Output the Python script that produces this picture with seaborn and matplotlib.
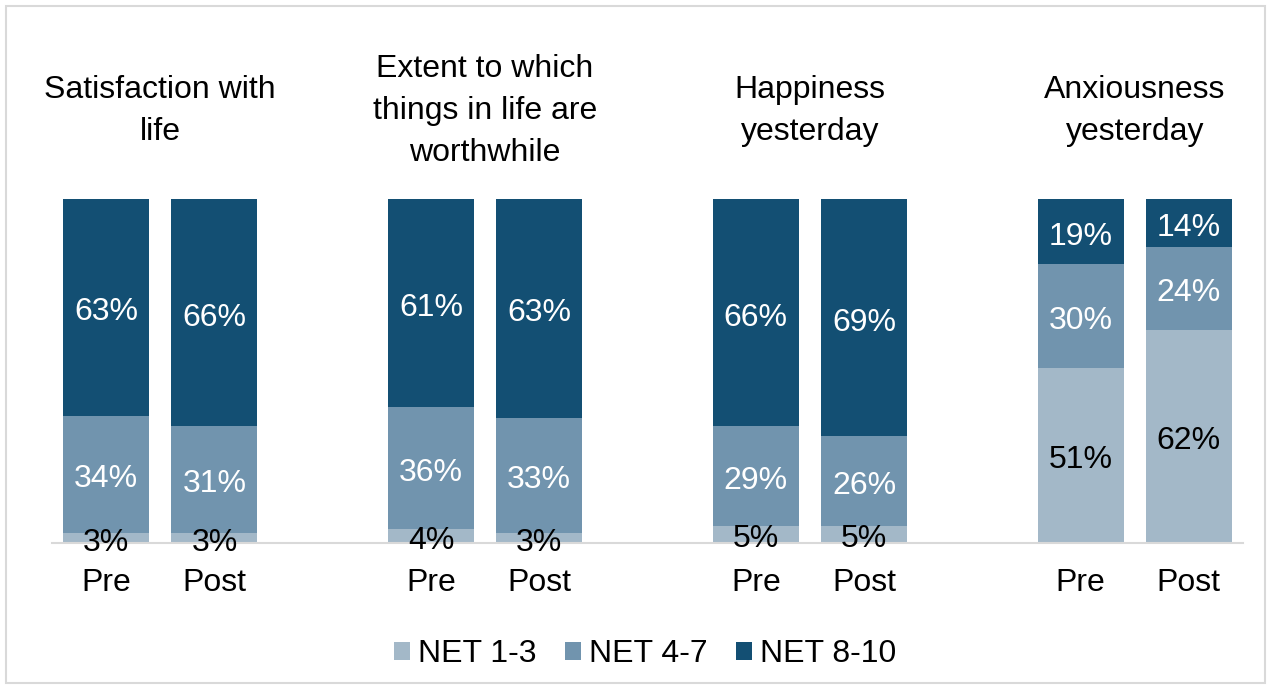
import matplotlib
matplotlib.use("Agg")
import matplotlib.pyplot as plt
import matplotlib.transforms as mtransforms
from matplotlib.patches import Rectangle, Patch
import seaborn as sns
import pandas as pd

# Wellbeing measures, before and after
measures = ["Satisfaction with\nlife",
            "Extent to which\nthings in life are\nworthwhile",
            "Happiness\nyesterday",
            "Anxiousness\nyesterday"]
periods = ["Pre", "Post"]
bands = ["NET 1-3", "NET 4-7", "NET 8-10"]

# Percentages per measure, in order Pre, Post
net_1_3 = [[3, 3], [4, 3], [5, 5], [51, 62]]
net_4_7 = [[34, 31], [36, 33], [29, 26], [30, 24]]
net_8_10 = [[63, 66], [61, 63], [66, 69], [19, 14]]

colors = {"NET 1-3": "#A3B8C8", "NET 4-7": "#7194AE", "NET 8-10": "#134F73"}
label_colors = {"NET 1-3": "black", "NET 4-7": "white", "NET 8-10": "white"}

rows = []
for g, m in enumerate(measures):
    for p, per in enumerate(periods):
        vals = [net_1_3[g][p], net_4_7[g][p], net_8_10[g][p]]
        total = sum(vals)
        cum = 0.0
        for b, v in zip(bands, vals):
            share = v / total * 100
            rows.append({"measure": m, "period": per, "band": b, "value": v,
                         "share": share, "bottom": cum, "x": g * 3 + p})
            cum += share
df = pd.DataFrame(rows)

plt.rcParams["font.family"] = ["Liberation Sans", "DejaVu Sans"]
fig = plt.figure(figsize=(12.71, 6.89), dpi=100)
ax = fig.add_axes([52 / 1271, (689 - 543) / 689, 1191 / 1271, 344 / 689])

for b in bands:
    sub = df[df["band"] == b]
    sns.barplot(data=sub, x="x", y="share", native_scale=True, ax=ax,
                color=colors[b], width=0.794, bottom=sub["bottom"].values,
                linewidth=0, saturation=1, errorbar=None)

fs = 23
# Segment labels, nudged slightly down from the segment centre
label_tr = ax.transData + mtransforms.ScaledTranslation(0, -5 / 100, fig.dpi_scale_trans)
for _, r in df.iterrows():
    y = r["bottom"] + r["share"] / 2
    ax.text(r["x"], y, f"{r['value']}%", transform=label_tr,
            ha="center", va="center", fontsize=fs,
            color=label_colors[r["band"]])

ax.set_xlim(-0.5, 10.5)
ax.set_ylim(0, 100)
ax.set_xticks([g * 3 + p for g in range(4) for p in range(2)])
ax.set_xticklabels(periods * 4, fontsize=fs)
ax.tick_params(axis="x", length=0, pad=18)
ax.set_yticks([])
ax.set_xlabel("")
ax.set_ylabel("")
for s in ["top", "right", "left"]:
    ax.spines[s].set_visible(False)
ax.spines["bottom"].set_color("#D9D9D9")
ax.spines["bottom"].set_linewidth(1.5)

# Group titles above each pair of bars
title_tr = mtransforms.blended_transform_factory(ax.transData, fig.transFigure)
for g, m in enumerate(measures):
    ax.text(g * 3 + 0.5, 1 - 111 / 689, m, transform=title_tr,
            ha="center", va="center", fontsize=fs, linespacing=1.52)

handles = [Patch(facecolor=colors[b], edgecolor="none") for b in bands]
fig.legend(handles, bands, loc="center", bbox_to_anchor=(645 / 1271, 1 - 654 / 689),
           ncol=3, frameon=False, fontsize=fs, handlelength=0.5, handleheight=0.5,
           handletextpad=0.25, columnspacing=0.9)

fig.add_artist(Rectangle((6 / 1271, 6 / 689), 1259 / 1271, 677 / 689,
                         transform=fig.transFigure, fill=False,
                         edgecolor="#D9D9D9", linewidth=1.5))

fig.savefig("out.png", dpi=100)
